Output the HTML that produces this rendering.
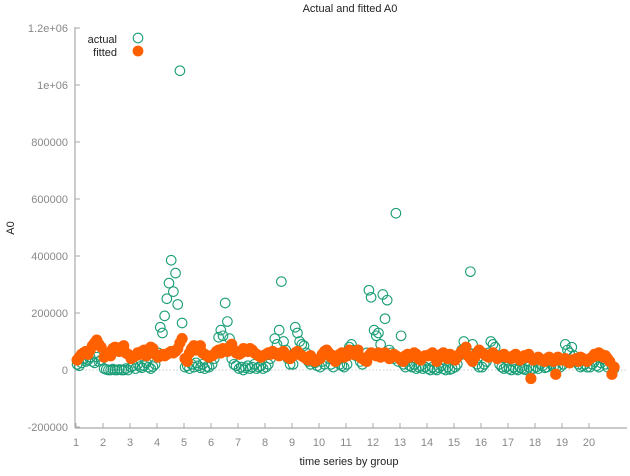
<!DOCTYPE html>
<html><head><meta charset="utf-8"><style>
body{margin:0;background:#fff}
svg text{font-family:"Liberation Sans",sans-serif}
</style></head><body>
<svg id="chart" width="630" height="471" viewBox="0 0 630 471" xmlns="http://www.w3.org/2000/svg">
<text x="350" y="12" font-size="11" text-anchor="middle" fill="#222">Actual and fitted A0</text>
<text x="14" y="228" font-size="11" text-anchor="middle" fill="#222" transform="rotate(-90 14 228)">A0</text>
<text x="349" y="465" font-size="11" text-anchor="middle" fill="#222">time series by group</text>
<g id="axes"></g>
<g id="marks"></g>
<g>
<text x="117" y="43" font-size="11" text-anchor="end" fill="#222">actual</text>
<circle cx="138" cy="38" r="4.8" fill="none" stroke="#1b9e77" stroke-width="1.1"/>
<text x="117" y="56" font-size="11" text-anchor="end" fill="#222">fitted</text>
<circle cx="138" cy="51" r="5.4" fill="#ff6000"/>
</g>
</svg>
<script>
const groups=[1,2,3,4,5,6,7,8,9,10,11,12,13,14,15,16,17,18,19,20];
const yTicks=[-200000,0,200000,400000,600000,800000,1000000,1200000];
const yTickLabels=["-200000","0","200000","400000","600000","800000","1e+06","1.2e+06"];
// values in thousands, per group
const actual=[
[20,15,25,40,30,35,45,30,25,45,30,35],
[5,2,0,0,3,0,0,2,0,0,5,0],
[10,15,5,20,12,8,15,25,10,5,12,20],
[60,150,130,190,250,305,385,275,340,230,1050,165],
[10,15,5,20,10,25,15,8,20,5,12,10],
[20,40,60,115,140,120,235,170,110,40,20,15],
[5,10,0,8,15,5,10,20,5,10,15,5],
[10,20,40,60,110,90,140,310,100,70,40,20],
[20,150,130,100,90,85,60,30,20,40,25,15],
[10,30,20,60,40,20,10,30,50,20,15,10],
[20,80,90,70,50,60,30,20,40,60,280,255],
[140,120,130,90,265,180,245,70,60,40,550,30],
[120,20,10,30,15,10,20,5,10,15,5,10],
[5,0,10,3,0,8,15,5,0,10,2,5],
[10,20,50,70,100,80,60,345,90,50,20,10],
[10,20,30,60,100,90,80,40,20,10,5,10],
[5,0,10,3,0,8,5,2,0,10,3,5],
[10,5,20,15,8,10,30,20,10,5,15,10],
[20,90,70,60,80,50,30,20,10,15,20,10],
[10,20,30,15,10,25,40,20,10,30,15,5]];
const fitted=[
[35,45,55,60,65,55,70,85,95,105,90,80],
[45,55,60,50,75,80,70,65,80,85,60,55],
[40,45,50,60,55,65,70,50,60,80,75,55],
[45,50,55,50,55,60,65,60,65,75,95,110],
[40,30,60,75,85,70,80,85,60,55,50,45],
[50,55,65,70,60,75,70,65,80,90,70,60],
[55,60,75,70,65,75,70,60,55,50,45,50],
[55,60,55,65,60,55,50,60,65,55,45,40],
[50,60,65,55,50,45,40,35,50,40,30,35],
[40,55,65,70,60,45,50,30,40,55,60,45],
[50,70,65,55,60,70,45,40,35,30,50,60],
[55,50,60,45,55,60,50,40,45,55,50,45],
[35,30,50,55,45,50,60,55,40,35,45,50],
[50,55,60,45,30,50,55,60,45,40,55,50],
[35,45,55,65,70,80,50,40,30,45,60,70],
[60,55,50,45,55,60,50,40,45,50,55,45],
[45,40,50,55,45,35,40,50,45,55,-30,35],
[40,45,35,35,30,40,45,35,30,-15,45,35],
[35,40,30,25,35,35,40,30,45,40,35,30],
[40,45,55,50,60,55,45,50,40,30,-15,10]];

const NS="http://www.w3.org/2000/svg";
const X=v=>76+(v-1)*27;
const Y=v=>370-v*57/200000;
const axes=document.getElementById('axes');
const marks=document.getElementById('marks');
function mk(tag,attrs,parent){const e=document.createElementNS(NS,tag);for(const k in attrs)e.setAttribute(k,attrs[k]);parent.appendChild(e);return e;}
let e;
e=mk('line',{x1:75,y1:27,x2:75,y2:428,stroke:'#aaa','stroke-width':1.2},axes);


e=mk('line',{x1:75,y1:428,x2:627,y2:428,stroke:'#aaa','stroke-width':1.2},axes);


e=mk('line',{x1:75,y1:Y(0),x2:627,y2:Y(0),stroke:'#bbb','stroke-width':0.8,'stroke-dasharray':'1.5,2'},axes);


yTicks.forEach((t,i)=>{
  const y=Y(t);
  e=mk('line',{x1:75,y1:y,x2:80,y2:y,stroke:'#aaa'},axes);
  
  
  e=mk('text',{x:68,y:y+4,'font-size':11,'text-anchor':'end',fill:'#888'},axes);
  e.textContent=yTickLabels[i];
  
  
});
groups.forEach(g=>{
  const x=X(g);
  e=mk('line',{x1:x,y1:428,x2:x,y2:423,stroke:'#aaa'},axes);
  
  
  e=mk('text',{x:x,y:446,'font-size':11,'text-anchor':'middle',fill:'#888'},axes);
  e.textContent=String(g);
  
  
});
groups.forEach((g,gi)=>{
  const a=actual[gi];
  a.forEach((v,i)=>{
    e=mk('circle',{cx:X(g+(i+0.5)/a.length*0.97),cy:Y(v*1000),r:4.8,fill:'none',stroke:'#1b9e77','stroke-width':1.1},marks);
    
    
  });
});
groups.forEach((g,gi)=>{
  const f=fitted[gi];
  f.forEach((v,i)=>{
    e=mk('circle',{cx:X(g+(i+0.5)/f.length*0.97),cy:Y(v*1000),r:5.6,fill:'#ff6000'},marks);
    
    
  });
});
</script>
</body></html>
